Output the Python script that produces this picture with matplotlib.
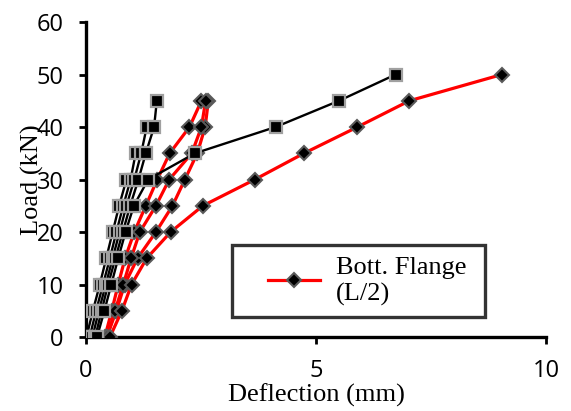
import numpy as np
import matplotlib
matplotlib.use("Agg")
import matplotlib.pyplot as plt
from matplotlib.legend_handler import HandlerLine2D

# load steps (kN)
loads_30 = [0, 5, 10, 15, 20, 25, 30]
loads_35 = [0, 5, 10, 15, 20, 25, 30, 35]
loads_40 = [0, 5, 10, 15, 20, 25, 30, 35, 40]
loads_45 = [0, 5, 10, 15, 20, 25, 30, 35, 40, 45]
loads_50 = [0, 5, 10, 15, 20, 25, 30, 35, 40, 45, 50]
unload_45 = [45, 40, 35, 30, 25, 20, 15, 10, 5, 0]

# black series, square markers (deflection, mm)
blk_c1 = [0.01, 0.15, 0.30, 0.44, 0.58, 0.72, 0.88]
blk_c2 = [0.08, 0.22, 0.37, 0.52, 0.66, 0.81, 0.97, 1.08]
blk_c3 = [0.14, 0.28, 0.43, 0.58, 0.73, 0.88, 1.05, 1.20, 1.32]
blk_c4 = [0.20, 0.34, 0.48, 0.64, 0.80, 0.96, 1.14, 1.30, 1.48, 1.54]
blk_final = [0.24, 0.40, 0.55, 0.70, 0.86, 1.04, 1.35, 2.37, 4.12, 5.50, 6.73]

# red series, diamond markers (deflection, mm)
red_up_a = [0.41, 0.56, 0.70, 0.85, 1.05, 1.30, 1.55, 1.82, 2.25, 2.51]
red_down_a = [2.66, 2.59, 2.42, 2.15, 1.88, 1.52, 1.12, 0.84, 0.66, 0.45]
red_up_b = [0.46, 0.63, 0.81, 0.98, 1.17, 1.52, 1.81, 2.30, 2.51, 2.60]
red_final = [0.52, 0.78, 0.99, 1.32, 1.84, 2.54, 3.67, 4.74, 5.90, 7.03, 9.04]

fig = plt.figure(figsize=(5.71, 4.11), dpi=100, facecolor="white")
ax = fig.add_axes([0.1506, 0.180, 0.8056, 0.7664])

red_kw = dict(color="#ff0000", lw=2.3, marker="D", ms=6.8, mfc="black",
              mec="#5a5a5a", mew=1.5)
blk_kw = dict(color="black", lw=1.7, marker="s", ms=9, mfc="black",
              mec="#a0a0a0", mew=1.6)

ax.plot(red_up_a, loads_45, **red_kw)
ax.plot(red_down_a, unload_45, **red_kw)
ax.plot(red_up_b, loads_45, **red_kw)
red_line, = ax.plot(red_final, loads_50, **red_kw)

ax.plot(blk_c1, loads_30, **blk_kw)
ax.plot(blk_c2, loads_35, **blk_kw)
ax.plot(blk_c3, loads_40, **blk_kw)
ax.plot(blk_c4, loads_45, **blk_kw)
ax.plot(blk_final, loads_50, **blk_kw)

ax.set_xlim(0, 10)
ax.set_ylim(0, 60)
ax.set_xticks([0, 5, 10])
ax.set_yticks(range(0, 61, 10))
for s in ["top", "right"]:
    ax.spines[s].set_visible(False)
for s in ["left", "bottom"]:
    ax.spines[s].set_linewidth(2.4)
    ax.spines[s].set_zorder(0.5)
ax.tick_params(direction="out", length=5, width=2, pad=11,
               labelsize=17)
for lab in ax.get_xticklabels() + ax.get_yticklabels():
    lab.set_fontfamily("Open Sans")

serif = "Liberation Serif"
ax.set_xlabel("Deflection (mm)", fontsize=19, family=serif, labelpad=0)
ax.set_ylabel("Load (kN)", fontsize=19, family=serif, labelpad=-5)

# legend: handle pushed right inside a wide framed box
leg = ax.legend([red_line], ["Bott. Flange\n(L/2)"],
                loc="upper left", bbox_to_anchor=(0.317, 0.063, 0.55, 0.229),
                mode="expand", borderaxespad=0, frameon=True, fancybox=False,
                prop={"family": serif, "size": 19},
                handlelength=2.88, handletextpad=0.6, borderpad=0.45,
                labelspacing=0.2,
                handler_map={red_line: HandlerLine2D(xpad=0.91)})
leg.get_frame().set_edgecolor("black")
leg.get_frame().set_linewidth(2.4)

fig.savefig("out.png", dpi=100)
